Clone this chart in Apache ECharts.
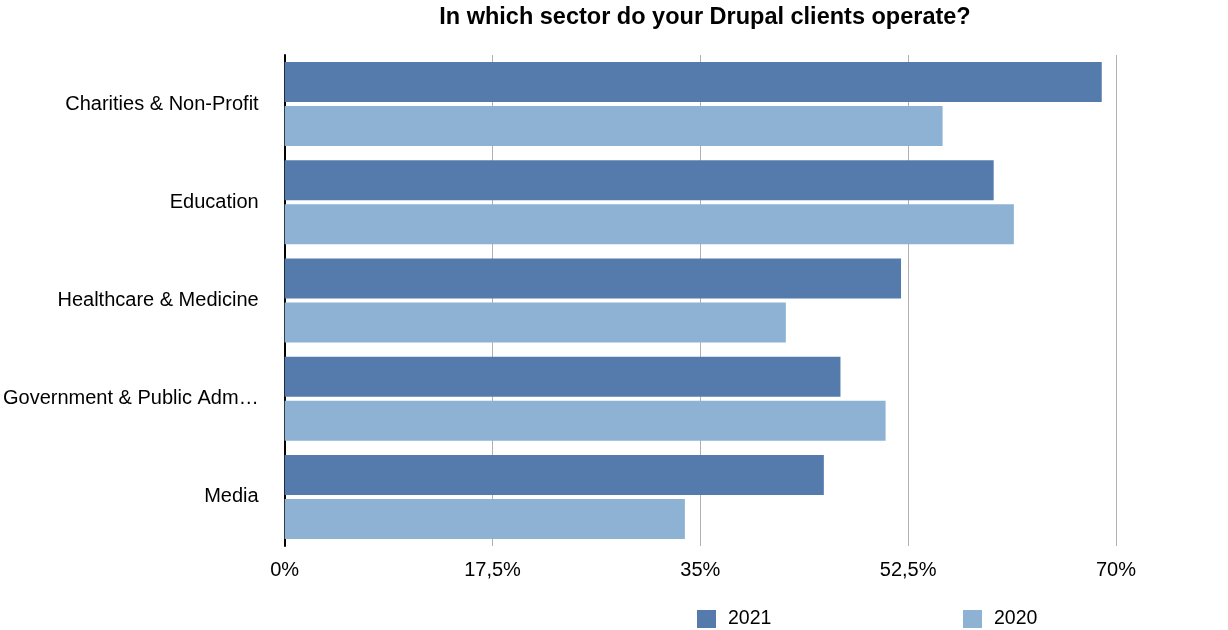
<!DOCTYPE html>
<html><head><meta charset="utf-8">
<script src="https://cdn.jsdelivr.net/npm/echarts@6/dist/echarts.min.js"></script>
<style>html,body{margin:0;padding:0;background:#fff}#c{width:1228px;height:630px}</style>
</head><body><div id="c"></div>
<script>
const categories = ["Charities & Non-Profit", "Education", "Healthcare & Medicine", "Government & Public Administration", "Media"];
const series2021 = [68.8, 59.7, 51.9, 46.8, 45.4];
const series2020 = [55.4, 61.4, 42.2, 50.6, 33.7];
const xTicks = [0, 17.5, 35, 52.5, 70];

const FONT = "Liberation Sans, Arial, Helvetica, sans-serif";
const chart = echarts.init(document.getElementById('c'), null, {renderer: 'canvas'});
const legendText = {fontFamily: FONT, fontSize: 19.5, color: '#000', padding: [0, 0, 0, 7]};
chart.setOption({
  animation: false,
  title: {
    text: "In which sector do your Drupal clients operate?",
    left: 700, top: 1, textAlign: 'center',
    textStyle: {fontFamily: FONT, fontSize: 23.5, fontWeight: 'bold', color: '#000'}
  },
  legend: [
    {left: 692, top: 604, itemWidth: 19, itemHeight: 18, icon: 'rect',
      textStyle: legendText, data: ['2021']},
    {left: 958, top: 604, itemWidth: 19, itemHeight: 18, icon: 'rect',
      textStyle: legendText, data: ['2020']}
  ],
  grid: {left: 284, right: 112, top: 55, bottom: 84, containLabel: false},
  xAxis: {
    type: 'value', min: 0, max: 70, interval: 17.5,
    axisLine: {show: false},
    axisTick: {show: false},
    splitLine: {show: true, lineStyle: {color: '#b0b0b0', width: 1}},
    axisLabel: {
      fontFamily: FONT, fontSize: 20, color: '#000', margin: 14,
      formatter: v => (xTicks.includes(v) ? String(v).replace('.', ',') + '%' : '')
    }
  },
  yAxis: {
    type: 'category', data: categories, inverse: true,
    axisLine: {show: true, lineStyle: {color: '#000', width: 2}},
    axisTick: {show: false},
    axisLabel: {fontFamily: FONT, fontSize: 20, color: '#000', margin: 26,
      width: 258, overflow: 'truncate', ellipsis: '…'}
  },
  series: [
    {name: '2021', type: 'bar', data: series2021, barWidth: 40, barGap: '10%',
      itemStyle: {color: '#557bac'}},
    {name: '2020', type: 'bar', data: series2020, barWidth: 40,
      itemStyle: {color: '#8db2d4'}}
  ]
});
</script></body></html>
